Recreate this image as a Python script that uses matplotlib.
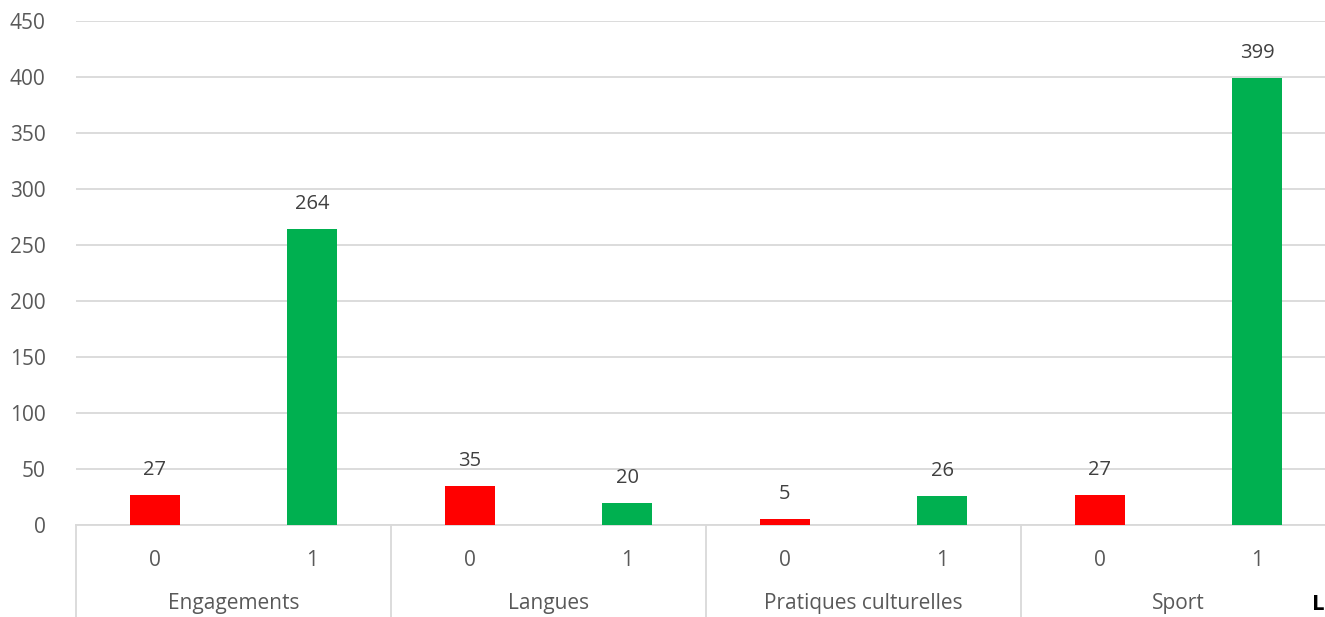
import numpy as np
import matplotlib
matplotlib.use("Agg")
import matplotlib.pyplot as plt
from matplotlib.lines import Line2D

plt.rcParams["font.family"] = ["Open Sans", "DejaVu Sans"]

groups = ["Engagements", "Langues", "Pratiques culturelles", "Sport"]
sub_labels = ["0", "1"]
values = [27, 264, 35, 20, 5, 26, 27, 399]
colors = ["#FF0000", "#00B050"]

TEXT = "#595959"
GRID = "#D9D9D9"

fig = plt.figure(figsize=(13.25, 6.17), dpi=100)
ax = fig.add_axes([76 / 1325, 92 / 617, 1260 / 1325, 504 / 617])

x = np.arange(len(values))
bar_colors = [colors[i % 2] for i in range(len(values))]
bars = ax.bar(x, values, width=0.317, color=bar_colors, zorder=3)

for b, v in zip(bars, values):
    ax.annotate(str(v), (b.get_x() + b.get_width() / 2, v), xytext=(0, 18),
                textcoords="offset points", ha="center", va="center",
                fontsize=14.5, color="#404040")

ax.set_xlim(-0.5, len(values) - 0.5)
ax.set_ylim(0, 450)
ax.set_yticks(np.arange(0, 451, 50))
ax.yaxis.grid(True, color=GRID, linewidth=1.3, zorder=0)
ax.tick_params(axis="y", length=0, pad=22, labelsize=15, labelcolor=TEXT)
for s in ["top", "right", "left"]:
    ax.spines[s].set_visible(False)
ax.spines["bottom"].set_color(GRID)
ax.spines["bottom"].set_linewidth(1.3)

# first level: 0 / 1 labels
ax.set_xticks(x)
ax.set_xticklabels([sub_labels[i % 2] for i in range(len(values))])
ax.tick_params(axis="x", length=0, pad=18, labelsize=15, labelcolor=TEXT)

# second level: group names and separators
trans = ax.get_xaxis_transform()
for g, name in enumerate(groups):
    ax.text(2 * g + 0.5, -0.155, name, transform=trans, ha="center", va="center",
            fontsize=15, color=TEXT)
for g in range(len(groups) + 1):
    ax.add_line(Line2D([2 * g - 0.5, 2 * g - 0.5], [0, -0.19], transform=trans,
                       color=GRID, linewidth=1.3, clip_on=False))

fig.text(1318 / 1325, 1 - 605 / 617, "L", ha="center", va="center",
         fontsize=16, fontweight="bold", color="black")

fig.savefig("out.png", dpi=100)
